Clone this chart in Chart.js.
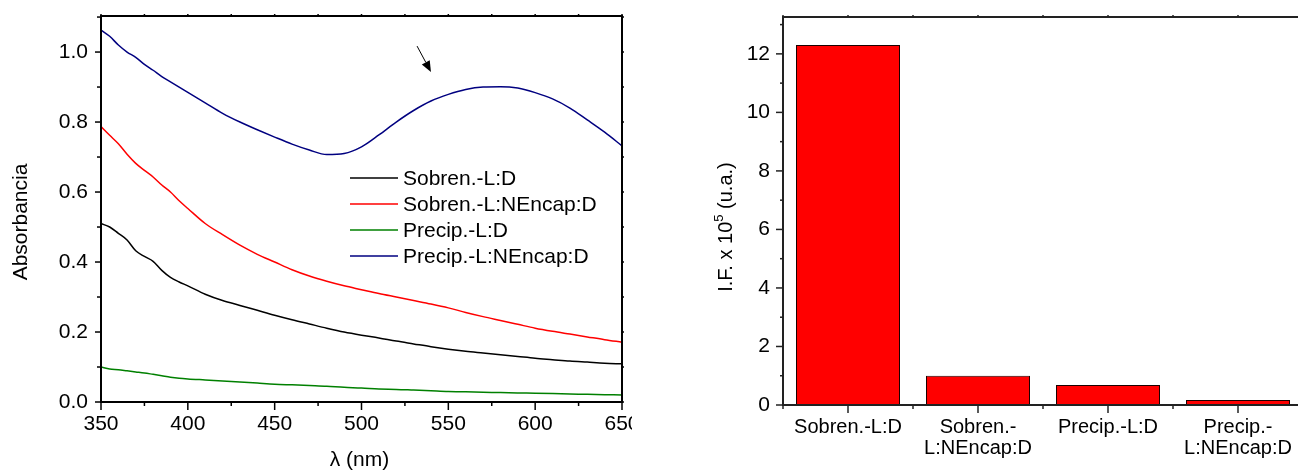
<!DOCTYPE html>
<html>
<head>
<meta charset="utf-8">
<script src="https://cdn.jsdelivr.net/npm/chart.js@4"></script>
<style>
  html, body { margin: 0; padding: 0; overflow: hidden; background: #fff; width: 1298px; height: 470px; }
  #left-wrap { position: absolute; left: 0; top: 0; width: 632px; height: 470px; overflow: hidden; }
  #right-wrap { position: absolute; left: 690px; top: 0; width: 608px; height: 470px; overflow: hidden; }
</style>
</head>
<body>
<div id="left-wrap"><canvas id="abs-chart" width="680" height="470"></canvas></div>
<div id="right-wrap"><canvas id="if-chart" width="620" height="470"></canvas></div>
<script>
  // --- absorbance spectra ---
  const wavelengths = [350, 355, 360, 365, 370, 375, 380, 385, 390, 395, 400,
    410, 420, 430, 440, 450, 460, 470, 480, 490, 500, 510, 520, 530, 540, 550,
    560, 570, 580, 590, 600, 610, 620, 630, 640, 650];
  const sobrenLD = [0.51, 0.50, 0.482, 0.463, 0.432, 0.416, 0.402, 0.376, 0.356, 0.343, 0.332,
    0.308, 0.29, 0.276, 0.262, 0.248, 0.235, 0.223, 0.211, 0.20, 0.191, 0.183, 0.174, 0.166, 0.158, 0.151,
    0.145, 0.14, 0.135, 0.13, 0.125, 0.121, 0.117, 0.114, 0.111, 0.109];
  const sobrenNEncapD = [0.787, 0.762, 0.738, 0.708, 0.682, 0.662, 0.643, 0.62, 0.60, 0.575, 0.553,
    0.51, 0.478, 0.448, 0.422, 0.40, 0.378, 0.36, 0.345, 0.332, 0.321, 0.31, 0.30, 0.29, 0.28, 0.269,
    0.256, 0.244, 0.233, 0.222, 0.211, 0.202, 0.194, 0.186, 0.178, 0.171];
  const precipLD = [0.10, 0.094, 0.092, 0.089, 0.086, 0.083, 0.079, 0.075, 0.071, 0.068, 0.066,
    0.063, 0.06, 0.057, 0.054, 0.051, 0.049, 0.047, 0.045, 0.042, 0.04, 0.037, 0.036, 0.034, 0.032, 0.03,
    0.029, 0.028, 0.027, 0.026, 0.025, 0.024, 0.023, 0.022, 0.021, 0.02];
  const precipNEncapD = [1.063, 1.045, 1.02, 1.0, 0.985, 0.965, 0.948, 0.93, 0.915, 0.90, 0.885,
    0.855, 0.825, 0.80, 0.778, 0.757, 0.737, 0.72, 0.707, 0.710, 0.729, 0.763, 0.80, 0.833, 0.86, 0.879,
    0.893, 0.90, 0.901, 0.897, 0.884, 0.866, 0.84, 0.806, 0.771, 0.732];
  const seriesNames = ["Sobren.-L:D", "Sobren.-L:NEncap:D", "Precip.-L:D", "Precip.-L:NEncap:D"];
  const seriesColors = ["#000000", "#ff0000", "#008000", "#000080"];
  const absXTicks = [350, 400, 450, 500, 550, 600, 650];
  const absYTicks = [0, 0.2, 0.4, 0.6, 0.8, 1.0];
  const arrowFrom = [532, 1.017];
  const arrowTo = [540, 0.943];

  // --- fluorescence intensity bars ---
  const barLabels = [["Sobren.-L:D"], ["Sobren.-", "L:NEncap:D"], ["Precip.-L:D"], ["Precip.-", "L:NEncap:D"]];
  const barValues = [12.3, 1.0, 0.68, 0.17];
  const ifYTicks = [0, 2, 4, 6, 8, 10, 12];

  const FONT = '"Liberation Sans", Arial, Helvetica, sans-serif';
  Chart.defaults.font.family = FONT;
  Chart.defaults.color = "#000";

  function halfSteps(major, max) {
    const out = [];
    const step = major[1] - major[0];
    major.forEach((v) => { if (v + step / 2 <= max + 1e-9) out.push(v + step / 2); });
    return out;
  }

  function line(ctx, x1, y1, x2, y2) {
    ctx.beginPath();
    ctx.moveTo(x1, y1);
    ctx.lineTo(x2, y2);
    ctx.stroke();
  }

  // keep the plot box where we put it, labels may hang over the edges
  function noEdgePadding(s) {
    s.paddingTop = 0;
    s.paddingBottom = 0;
    s.paddingLeft = 0;
    s.paddingRight = 0;
  }

  // box round the plot + tick marks on all four sides
  const framePlugin = {
    id: "frame",
    afterDatasetsDraw(chart, args, o) {
      const { ctx, chartArea: a, scales } = chart;
      const xs = scales.x, ys = scales.y;
      ctx.save();
      ctx.strokeStyle = o.color;
      ctx.lineWidth = o.lineWidth;
      ctx.strokeRect(a.left, a.top, a.right - a.left, a.bottom - a.top);
      ctx.lineWidth = o.tickWidth;
      o.xMajor.forEach((v) => {
        const px = xs.getPixelForValue(v);
        line(ctx, px, a.bottom, px, a.bottom + o.len.xMajor);
        line(ctx, px, a.top, px, a.top - o.len.top);
      });
      o.xMinor.forEach((v) => {
        const px = xs.getPixelForValue(v);
        line(ctx, px, a.bottom, px, a.bottom + o.len.xMinor);
        line(ctx, px, a.top, px, a.top - o.len.top);
      });
      o.yMajor.forEach((v) => {
        const py = ys.getPixelForValue(v);
        line(ctx, a.left, py, a.left - o.len.yMajor, py);
        line(ctx, a.right, py, a.right + o.len.right, py);
      });
      o.yMinor.forEach((v) => {
        const py = ys.getPixelForValue(v);
        line(ctx, a.left, py, a.left - o.len.yMinor, py);
        line(ctx, a.right, py, a.right + o.len.right, py);
      });
      ctx.restore();
    },
  };

  // ---------- left: absorbance ----------
  const absCtx = document.getElementById("abs-chart");
  const absSeries = [sobrenLD, sobrenNEncapD, precipLD, precipNEncapD];

  new Chart(absCtx, {
    type: "line",
    data: {
      datasets: absSeries.map((arr, i) => ({
        label: seriesNames[i],
        data: wavelengths.map((w, j) => ({ x: w, y: arr[j] })),
        borderColor: seriesColors[i],
        borderWidth: 1.5,
        pointRadius: 0,
        cubicInterpolationMode: "monotone",
        fill: false,
      })),
    },
    options: {
      responsive: false,
      animation: false,
      events: [],
      layout: { padding: { left: 0, top: 16, right: 58, bottom: 0 } },
      plugins: {
        legend: { display: false },
        tooltip: { enabled: false },
        frame: {
          color: "#000", lineWidth: 2, tickWidth: 1.5,
          xMajor: absXTicks, xMinor: halfSteps(absXTicks, 650),
          yMajor: absYTicks, yMinor: halfSteps(absYTicks, 1.103),
          len: { xMajor: 8, xMinor: 4, yMajor: 6, yMinor: 4, top: 2, right: 2 },
        },
      },
      scales: {
        x: {
          type: "linear", min: 350, max: 650,
          grid: { display: false, drawTicks: false },
          border: { display: false },
          afterBuildTicks: (s) => { s.ticks = absXTicks.map((v) => ({ value: v })); },
          afterFit: (s) => { s.height = 68; noEdgePadding(s); },
          ticks: { padding: 10, font: { size: 21 }, maxRotation: 0, autoSkip: false, callback: (v) => String(v) },
        },
        y: {
          min: 0, max: 1.103,
          grid: { display: false, drawTicks: false },
          border: { display: false },
          afterBuildTicks: (s) => { s.ticks = absYTicks.map((v) => ({ value: v })); },
          afterFit: (s) => { s.width = 101; noEdgePadding(s); },
          ticks: { padding: 13, font: { size: 21 }, callback: (v) => Number(v).toFixed(1) },
        },
      },
    },
    plugins: [framePlugin, {
      id: "absExtras",
      afterDraw(chart) {
        const { ctx, chartArea: a, scales } = chart;
        ctx.save();
        ctx.fillStyle = "#000";
        ctx.font = "21px " + FONT;
        // axis titles
        ctx.textAlign = "center";
        ctx.textBaseline = "middle";
        ctx.fillText("λ (nm)", (a.left + a.right) / 2 - 2, 460);
        ctx.save();
        ctx.translate(21, (a.top + a.bottom) / 2 + 13);
        ctx.rotate(-Math.PI / 2);
        ctx.fillText("Absorbancia", 0, 0);
        ctx.restore();

        // legend
        const lx = a.left + 249, ly = a.top + 162;
        ctx.textAlign = "left";
        seriesNames.forEach((name, i) => {
          const y = ly + i * 26;
          ctx.strokeStyle = seriesColors[i];
          ctx.lineWidth = 1.5;
          line(ctx, lx, y, lx + 48, y);
          ctx.fillStyle = "#000";
          ctx.fillText(name, lx + 53, y + 1);
        });

        // arrow pointing to the band
        const x1 = scales.x.getPixelForValue(arrowFrom[0]), y1 = scales.y.getPixelForValue(arrowFrom[1]);
        const x2 = scales.x.getPixelForValue(arrowTo[0]), y2 = scales.y.getPixelForValue(arrowTo[1]);
        const ang = Math.atan2(y2 - y1, x2 - x1);
        const head = 11, hw = 4.5;
        const bx = x2 - head * Math.cos(ang), by = y2 - head * Math.sin(ang);
        ctx.strokeStyle = "#000";
        ctx.lineWidth = 1;
        line(ctx, x1, y1, bx, by);
        ctx.beginPath();
        ctx.moveTo(x2, y2);
        ctx.lineTo(bx + hw * Math.sin(ang), by - hw * Math.cos(ang));
        ctx.lineTo(bx - hw * Math.sin(ang), by + hw * Math.cos(ang));
        ctx.closePath();
        ctx.fill();
        ctx.restore();
      },
    }],
  });

  // ---------- right: fluorescence intensity ----------
  const ifCtx = document.getElementById("if-chart");

  new Chart(ifCtx, {
    type: "bar",
    data: {
      labels: barLabels,
      datasets: [{
        data: barValues,
        backgroundColor: "#ff0000",
        borderColor: "#1a0000",
        borderWidth: 1,
        borderSkipped: false,
        barPercentage: 0.8,
        categoryPercentage: 1.0,
      }],
    },
    options: {
      responsive: false,
      animation: false,
      events: [],
      layout: { padding: { left: 0, top: 17, right: 7, bottom: 0 } },
      plugins: {
        legend: { display: false },
        tooltip: { enabled: false },
        frame: {
          color: "#222", lineWidth: 2, tickWidth: 1.5,
          xMajor: [0, 1, 2, 3], xMinor: [-0.5, 0.5, 1.5, 2.5, 3.5],
          yMajor: ifYTicks, yMinor: halfSteps(ifYTicks, 13.26),
          len: { xMajor: 8, xMinor: 4, yMajor: 7, yMinor: 3, top: 2, right: 2 },
        },
      },
      scales: {
        x: {
          grid: { display: false, drawTicks: false },
          border: { display: false },
          afterFit: (s) => { s.height = 65; noEdgePadding(s); },
          ticks: { padding: 12, font: { size: 20, lineHeight: 1.05 }, maxRotation: 0, autoSkip: false },
        },
        y: {
          min: 0, max: 13.26,
          grid: { display: false, drawTicks: false },
          border: { display: false },
          afterBuildTicks: (s) => { s.ticks = ifYTicks.map((v) => ({ value: v })); },
          afterFit: (s) => { s.width = 93; noEdgePadding(s); },
          ticks: { padding: 13, font: { size: 21 }, callback: (v) => String(v) },
        },
      },
    },
    plugins: [framePlugin, {
      id: "ifTitle",
      afterDraw(chart) {
        const { ctx, chartArea: a } = chart;
        const parts = [
          { t: "I.F. x 10", size: 20, dy: 0 },
          { t: "5", size: 13, dy: -9 },
          { t: " (u.a.)", size: 20, dy: 0 },
        ];
        ctx.save();
        ctx.fillStyle = "#000";
        ctx.textBaseline = "alphabetic";
        ctx.textAlign = "left";
        let w = 0;
        parts.forEach((p) => { ctx.font = p.size + "px " + FONT; p.w = ctx.measureText(p.t).width; w += p.w; });
        ctx.translate(42, (a.top + a.bottom) / 2 + 16);
        ctx.rotate(-Math.PI / 2);
        let x = -w / 2;
        parts.forEach((p) => {
          ctx.font = p.size + "px " + FONT;
          ctx.fillText(p.t, x, p.dy);
          x += p.w;
        });
        ctx.restore();
      },
    }],
  });
</script>
</body>
</html>
